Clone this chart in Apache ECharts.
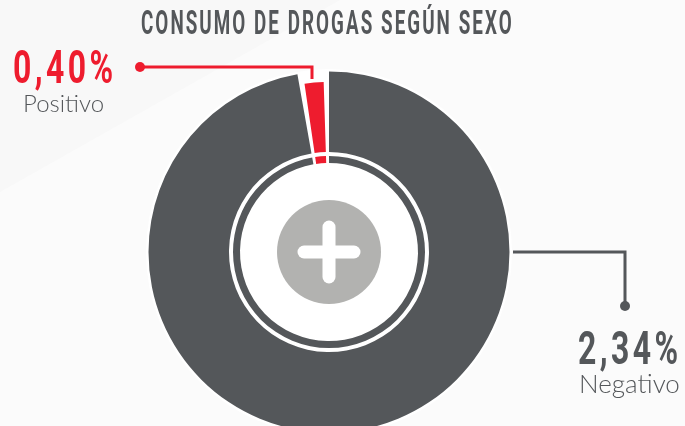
<!DOCTYPE html>
<html>
<head>
<meta charset="utf-8">
<style>html,body{margin:0;padding:0;background:#f8f8f8}#c{width:685px;height:426px}</style>
<script src="https://cdn.jsdelivr.net/npm/echarts@6/dist/echarts.min.js"></script>
</head>
<body>
<div id="c"></div>
<script>
// Categories and printed labels, as they read in the picture
const categories = ['Negativo', 'Positivo'];
const valueLabels = ['2,34%', '0,40%'];
// Slice sizes as drawn in the picture (degrees of arc); the artwork is not proportional to the printed labels
const drawnArc = [348.2, 8.2];
const chartTitle = 'CONSUMO DE DROGAS SEGÚN SEXO';

// The poster face is tracked out: add letter spacing to the large condensed text only
const proto = CanvasRenderingContext2D.prototype, fillText0 = proto.fillText;
proto.fillText = function (...a) {
  const m = /(\d+)px/.exec(this.font), s = m ? +m[1] : 0;
  this.letterSpacing = s === 33 ? '3.6px' : s === 47 ? '5px' : '0px';
  return fillText0.apply(this, a);
};

const DARK = '#54575a', RED = '#ee1c2e', GREY = '#b2b2b0';
const cx = 329, cy = 252;
const none = {color: 'transparent'};

function ring(radius, styles, z) {
  return {
    type: 'pie', center: [cx, cy], radius, startAngle: 90.9, padAngle: 1.8,
    clockwise: true, silent: true, label: {show: false}, labelLine: {show: false}, z,
    animation: false,
    data: categories.map((name, i) => ({name, value: drawnArc[i], itemStyle: styles[i]}))
  };
}
function disc(r, color, z) {
  return {type: 'pie', center: [cx, cy], radius: [0, r], silent: true, z, animation: false,
    label: {show: false}, labelLine: {show: false}, data: [{value: 1, itemStyle: {color}}]};
}
function txt(text, x, y, font, fill, sx) {
  return {type: 'text', x, y, scaleX: sx, z: 20, silent: true,
    style: {text, font, fill, textAlign: 'left', textVerticalAlign: 'middle'}};
}
const NUM = '700 47px Roboto', TIT = '700 33px Roboto';

const option = {
  backgroundColor: '#f8f8f8',
  animation: false,
  graphic: [
    {type: 'polygon', z: -1, silent: true, shape: {points: [[0,192],[340,0],[685,0],[685,426],[0,426]]}, style: {fill: '#fbfbfb'}},
    txt(chartTitle, 141, 26, TIT, DARK, 0.57),
    txt(valueLabels[1], 13, 71, NUM, RED, 0.68),
    txt(categories[1], 23, 104, '300 24px Lato', DARK, 1),
    txt(valueLabels[0], 578, 352, NUM, DARK, 0.68),
    txt(categories[0], 579, 385, '300 26px Lato', DARK, 1),
    {type: 'polyline', z: 15, silent: true, shape: {points: [[140,67],[312,67],[312,79]]}, style: {stroke: RED, lineWidth: 3, fill: null}},
    {type: 'circle', z: 15, silent: true, shape: {cx: 140, cy: 67, r: 5}, style: {fill: RED}},
    {type: 'polyline', z: 15, silent: true, shape: {points: [[513,252],[625,252],[625,306]]}, style: {stroke: DARK, lineWidth: 3, fill: null}},
    {type: 'circle', z: 15, silent: true, shape: {cx: 625, cy: 306, r: 5}, style: {fill: DARK}},
    {type: 'rect', z: 15, silent: true, shape: {x: cx-31.5, y: cy-6.5, width: 63, height: 13, r: 6.5}, style: {fill: '#fff'}},
    {type: 'rect', z: 15, silent: true, shape: {x: cx-6.5, y: cy-31.5, width: 13, height: 63, r: 6.5}, style: {fill: '#fff'}}
  ],
  series: [
    disc(183, '#ffffff', 1),
    ring([100, 180.5], [{color: DARK}, none], 2),
    ring([100, 170], [none, {color: RED}], 2),
    ring([89, 96], [{color: DARK}, {color: RED}], 3),
    disc(52, GREY, 4)
  ]
};
echarts.init(document.getElementById('c')).setOption(option);
</script>
</body>
</html>
